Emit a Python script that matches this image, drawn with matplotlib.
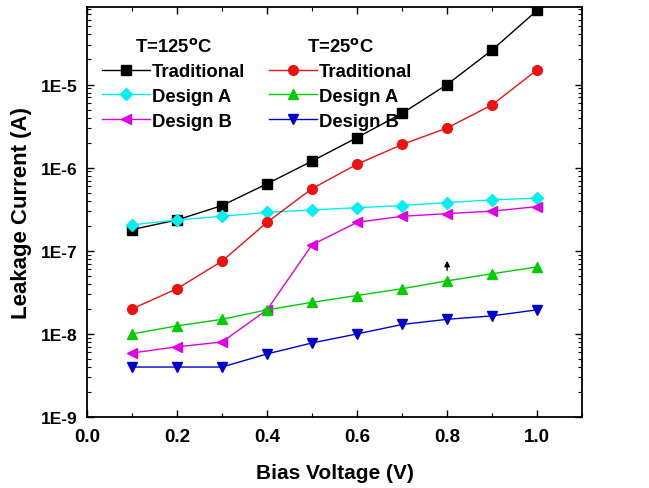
#!/usr/bin/env python3
"""Leakage current vs bias voltage for traditional / Design A / Design B at two temperatures."""

import math

import matplotlib
matplotlib.use("Agg")
import matplotlib.pyplot as plt
from matplotlib.ticker import FixedLocator, FuncFormatter, LogLocator, MultipleLocator, NullFormatter

plt.rcParams["font.family"] = ["Liberation Sans", "DejaVu Sans"]
plt.rcParams["font.weight"] = "bold"

# ---------------------------------------------------------------------------
# Data
# ---------------------------------------------------------------------------
bias_v = [0.1, 0.2, 0.3, 0.4, 0.5, 0.6, 0.7, 0.8, 0.9, 1.0]

trad_125 = [1.8e-7, 2.35e-7, 3.5e-7, 6.4e-7, 1.2e-6, 2.3e-6, 4.5e-6, 1.0e-5, 2.6e-5, 7.8e-5]
design_a_125 = [2.05e-7, 2.35e-7, 2.6e-7, 2.9e-7, 3.1e-7, 3.3e-7, 3.5e-7, 3.8e-7, 4.1e-7, 4.3e-7]
design_b_125 = [5.9e-9, 7.0e-9, 8.0e-9, 1.95e-8, 1.18e-7, 2.2e-7, 2.6e-7, 2.8e-7, 3.0e-7, 3.4e-7]

trad_25 = [2.0e-8, 3.5e-8, 7.5e-8, 2.2e-7, 5.6e-7, 1.1e-6, 1.9e-6, 3.0e-6, 5.7e-6, 1.5e-5]
design_a_25 = [1.0e-8, 1.25e-8, 1.5e-8, 1.95e-8, 2.4e-8, 2.9e-8, 3.5e-8, 4.35e-8, 5.3e-8, 6.4e-8]
design_b_25 = [4.0e-9, 4.0e-9, 4.0e-9, 5.75e-9, 7.8e-9, 1.0e-8, 1.3e-8, 1.5e-8, 1.65e-8, 1.95e-8]

# small arrow near V = 0.8
arrow_x = 0.8
arrow_from, arrow_to = 5.4e-8, 8.2e-8

# (values, colour, marker, label)
series_125 = [
    (trad_125, "black", "s", "Traditional"),
    (design_a_125, "#00f0f0", "D", "Design A"),
    (design_b_125, "#e000e0", "<", "Design B"),
]
series_25 = [
    (trad_25, "#ee1111", "o", "Traditional"),
    (design_a_25, "#00cc00", "^", "Design A"),
    (design_b_25, "#0000cc", "v", "Design B"),
]

fig = plt.figure(figsize=(6.49, 4.89), dpi=100)
ax = fig.add_axes([0.134, 0.145, 0.763, 0.839])

handles_125, handles_25 = [], []
for vals, col, mk, lab in series_125:
    ms = 6 if mk == "D" else 7
    h, = ax.plot(bias_v, vals, color=col, marker=mk, markersize=ms, linewidth=1.0, label=lab)
    handles_125.append(h)
for vals, col, mk, lab in series_25:
    h, = ax.plot(bias_v, vals, color=col, marker=mk, markersize=7, linewidth=1.0, label=lab)
    handles_25.append(h)

ax.annotate("", xy=(arrow_x, arrow_to), xytext=(arrow_x, arrow_from),
            arrowprops=dict(arrowstyle="-|>", color="black", lw=1.0, mutation_scale=8))

ax.set_yscale("log")
ax.set_xlim(0, 1.1)
ax.set_ylim(1e-9, 8.6e-5)

ax.xaxis.set_major_locator(MultipleLocator(0.2))
ax.xaxis.set_minor_locator(MultipleLocator(0.1))
ax.xaxis.set_major_formatter(FuncFormatter(lambda v, p: f"{v:.1f}"))
ax.yaxis.set_major_locator(FixedLocator([1e-9, 1e-8, 1e-7, 1e-6, 1e-5]))
ax.yaxis.set_minor_locator(LogLocator(base=10, subs=range(2, 10)))
ax.yaxis.set_minor_formatter(NullFormatter())
ax.yaxis.set_major_formatter(FuncFormatter(lambda v, p: f"1E{int(round(math.log10(v)))}"))

ax.tick_params(which="both", direction="in", top=True, right=True)
ax.tick_params(axis="x", labelsize=13.5, pad=8)
ax.tick_params(axis="y", labelsize=12.5, pad=7)
ax.tick_params(which="major", length=5, width=1.0)
ax.tick_params(which="minor", length=3, width=0.8)
for s in ax.spines.values():
    s.set_linewidth(1.3)

ax.set_xlabel("Bias Voltage (V)", fontsize=15, fontweight="bold", labelpad=13)
ax.set_ylabel("Leakage Current (A)", fontsize=16, fontweight="bold", labelpad=6)

leg_kw = dict(frameon=False, fontsize=13.3, handlelength=2.6, handletextpad=0.1,
              labelspacing=0.42, borderaxespad=0.3, borderpad=0.2,
              title_fontproperties={"weight": "bold", "size": 13.3})
leg1 = ax.legend(handles=handles_125, title="T=125$^{\\mathbf{o}}$C", loc="upper left",
                 bbox_to_anchor=(0.012, 0.948), **leg_kw)
ax.add_artist(leg1)
ax.legend(handles=handles_25, title="T=25$^{\\mathbf{o}}$C", loc="upper left",
          bbox_to_anchor=(0.349, 0.948), **leg_kw)

fig.savefig("out.png", dpi=100, facecolor="white")
